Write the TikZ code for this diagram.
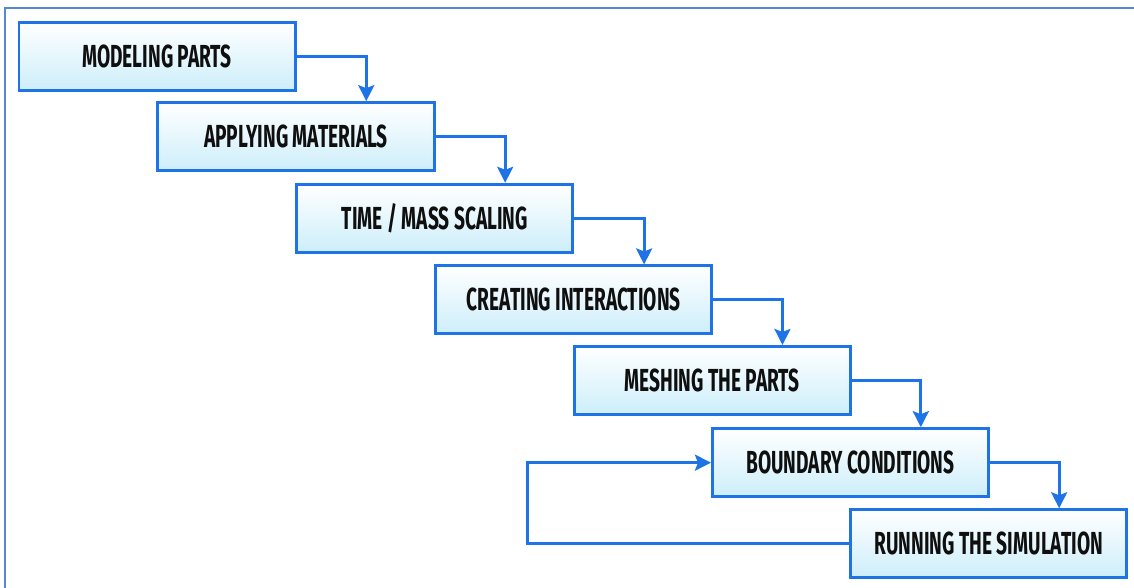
\documentclass[tikz,border=0pt]{standalone}
\usepackage{fontspec}
\usetikzlibrary{arrows.meta}
\newfontfamily\stagefont[FakeStretch=0.6]{Fira Sans}
\definecolor{stageblue}{RGB}{30,115,230}
\definecolor{frameblue}{RGB}{85,135,215}
\definecolor{stagefill}{RGB}{205,238,250}
\definecolor{stagetext}{RGB}{15,15,15}
\tikzset{
    stage/.style={draw=stageblue, line width=1.5pt, minimum width=4.87cm,
                  minimum height=1.2cm, inner sep=0pt, align=center,
                  top color=white, bottom color=stagefill,
                  text=stagetext, font=\stagefont\bfseries\fontsize{16}{19}\selectfont},
    flow/.style={-{Stealth[length=8pt, width=8pt, inset=1.5pt]},
                 draw=stageblue, line width=1.5pt},
}
% elbow connector: out of the right side, down onto the next stage
\newcommand{\stepdown}[2]{
    \draw[flow] (#1.east) -| ([xshift=1.24cm]#2.north);
}

\begin{document}
\begin{tikzpicture}
    \path[use as bounding box, fill=white] (0,0) rectangle (20,-10.37);
    \draw[draw=frameblue, line width=1.1pt] (20,-0.14) -- (0.09,-0.14) -- (0.09,-10.37);

    \node[stage] (modeling)    at (2.77,-0.99)   {MODELING PARTS};
    \node[stage] (materials)   at (5.22,-2.41)   {APPLYING MATERIALS};
    \node[stage] (scaling)     at (7.67,-3.85)   {TIME / MASS SCALING};
    \node[stage] (interaction) at (10.12,-5.29)  {CREATING INTERACTIONS};
    \node[stage] (meshing)     at (12.56,-6.71)  {MESHING THE PARTS};
    \node[stage] (boundary)    at (15.00,-8.16)  {BOUNDARY CONDITIONS};
    \node[stage] (running)     at (17.44,-9.59)  {RUNNING THE SIMULATION};

    \stepdown{modeling}{materials}
    \stepdown{materials}{scaling}
    \stepdown{scaling}{interaction}
    \stepdown{interaction}{meshing}
    \stepdown{meshing}{boundary}
    \stepdown{boundary}{running}

    % loop back from the run to the boundary conditions
    \coordinate (loopback) at (9.31,-9.59);
    \draw[flow] (running.west) -- (loopback) |- (boundary.west);
\end{tikzpicture}
\end{document}
